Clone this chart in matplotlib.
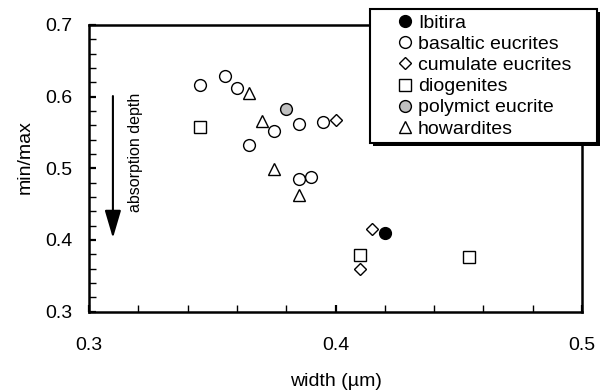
import matplotlib
matplotlib.use("Agg")
import matplotlib.pyplot as plt
from matplotlib.patches import Rectangle
from matplotlib.ticker import MultipleLocator

plt.rcParams["font.family"] = ["Liberation Sans", "DejaVu Sans"]

# values
ibitira_x = [0.42]
ibitira_y = [0.41]
basaltic_x = [0.345, 0.355, 0.36, 0.375, 0.385, 0.395, 0.365, 0.385, 0.39]
basaltic_y = [0.616, 0.629, 0.612, 0.552, 0.562, 0.565, 0.532, 0.485, 0.488]
cumulate_x = [0.40, 0.415, 0.41]
cumulate_y = [0.567, 0.415, 0.359]
diogenite_x = [0.345, 0.41, 0.454]
diogenite_y = [0.558, 0.379, 0.376]
polymict_x = [0.38]
polymict_y = [0.583]
howardite_x = [0.365, 0.37, 0.375, 0.385]
howardite_y = [0.605, 0.566, 0.499, 0.463]

W, H = 602, 390


def fx(px):
    return px / W


def fy(py):
    return 1 - py / H


fig = plt.figure(figsize=(W / 100, H / 100), dpi=100)
ax = fig.add_axes([fx(89), fy(311.5), fx(582) - fx(89), fy(25) - fy(311.5)])

common = dict(linestyle="none", markeredgecolor="black", markeredgewidth=1.0)
ax.plot(ibitira_x, ibitira_y, marker="o", ms=8.5, markerfacecolor="black",
        label="Ibitira", **common)
ax.plot(basaltic_x, basaltic_y, marker="o", ms=8.5, markerfacecolor="white",
        label="basaltic eucrites", **common)
ax.plot(cumulate_x, cumulate_y, marker="D", ms=6.4, markerfacecolor="white",
        label="cumulate eucrites", **common)
ax.plot(diogenite_x, diogenite_y, marker="s", ms=8.2, markerfacecolor="white",
        label="diogenites", **common)
ax.plot(polymict_x, polymict_y, marker="o", ms=8.5, markerfacecolor="#c0c0c0",
        label="polymict eucrite", **common)
ax.plot(howardite_x, howardite_y, marker="^", ms=9, markerfacecolor="white",
        label="howardites", **common)

ax.set_xlim(0.3, 0.5)
ax.set_ylim(0.3, 0.7)
ax.xaxis.set_major_locator(MultipleLocator(0.1))
ax.xaxis.set_minor_locator(MultipleLocator(0.02))
ax.yaxis.set_major_locator(MultipleLocator(0.1))
ax.yaxis.set_minor_locator(MultipleLocator(0.02))
ax.xaxis.set_major_formatter(plt.FuncFormatter(lambda v, p: f"{v:.1f}"))
ax.yaxis.set_major_formatter(plt.FuncFormatter(lambda v, p: f"{v:.1f}"))

for s in ax.spines.values():
    s.set_linewidth(1.8)
ax.tick_params(which="both", direction="in", length=5, top=False, right=False)
ax.tick_params(which="major", width=1.6, labelsize=14)
ax.tick_params(which="minor", width=1.0)
ax.tick_params(axis="x", which="major", pad=18)
ax.tick_params(axis="y", which="major", pad=12)

ax.set_xlabel("width (µm)", fontsize=14)
ax.set_ylabel("min/max", fontsize=14)
ax.xaxis.set_label_coords(0.5, -0.245)
ax.xaxis.label.set_va("center")
ax.yaxis.set_label_coords(-0.13, 0.54)
ax.yaxis.label.set_va("center")

# absorption depth arrow
ax.annotate("", xy=(0.3097, 0.4025), xytext=(0.3097, 0.6008),
            arrowprops=dict(arrowstyle="-|>,head_length=1.7,head_width=0.5",
                            mutation_scale=10, lw=1.5, color="black",
                            shrinkA=0, shrinkB=0))
ax.text(0.3187, 0.5226, "absorption depth", rotation=90, fontsize=11.5,
        ha="center", va="center")

# legend box with shadow, partly outside the axes
fig.add_artist(Rectangle((fx(373), fy(146)), fx(600) - fx(373), fy(12) - fy(146),
                         transform=fig.transFigure, facecolor="black",
                         edgecolor="none", zorder=3))
fig.add_artist(Rectangle((fx(370), fy(143)), fx(597) - fx(370), fy(9) - fy(143),
                         transform=fig.transFigure, facecolor="white",
                         edgecolor="black", linewidth=1.5, zorder=3.1))
handles, labels = ax.get_legend_handles_labels()
leg = fig.legend(handles, labels, loc="center", frameon=False,
                 bbox_to_anchor=(fx(483.5), fy(76)), bbox_transform=fig.transFigure,
                 fontsize=14, borderpad=0, handlelength=1.0, handletextpad=0.15,
                 labelspacing=0.18, numpoints=1)
leg.set_zorder(6)

fig.savefig("out.png", dpi=100)
